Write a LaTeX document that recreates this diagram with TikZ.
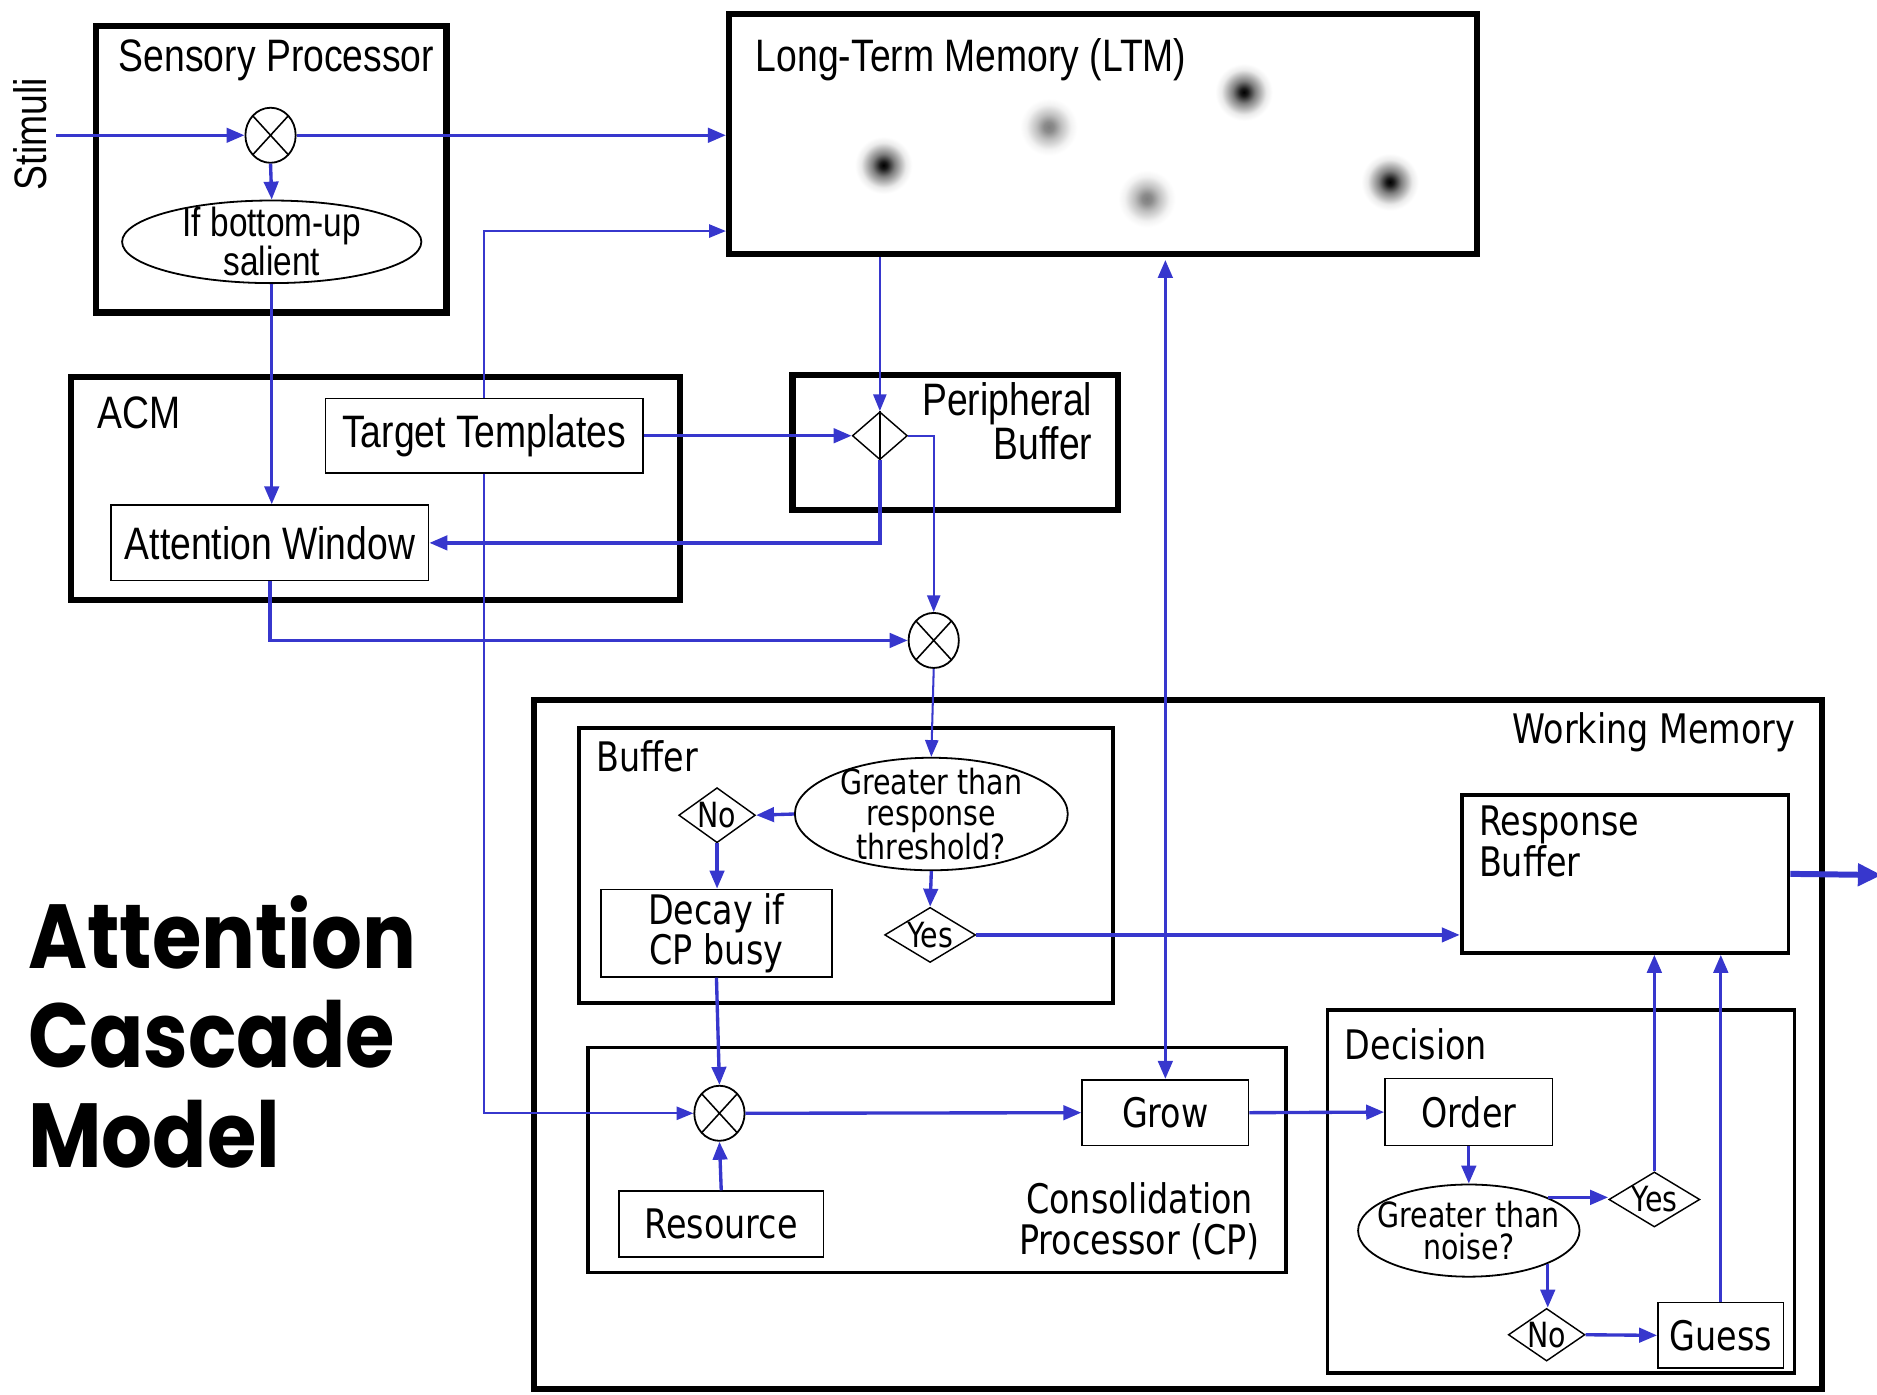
\documentclass[tikz,border=0pt]{standalone}
\usepackage{fontspec}
\usetikzlibrary{arrows.meta,shapes.geometric,calc}
\newfontfamily\narrowfont[FakeStretch=0.82]{Liberation Sans}
\newfontfamily\wmfont[FakeStretch=0.82]{DejaVu Sans}
\newfontfamily\titlefont[FakeStretch=0.88]{Poppins}
\definecolor{flow}{RGB}{55,55,205}
% soft memory traces inside the LTM store
\pgfdeclareradialshading{darkdot}{\pgfpoint{0bp}{0bp}}{color(0bp)=(black); color(3bp)=(black!90); color(9bp)=(black!50); color(18bp)=(black!8); color(23bp)=(white); color(25bp)=(white); color(50bp)=(white)}
\pgfdeclareradialshading{greydot}{\pgfpoint{0bp}{0bp}}{color(0bp)=(black!50); color(4bp)=(black!45); color(10bp)=(black!25); color(18bp)=(black!5); color(23bp)=(white); color(25bp)=(white); color(50bp)=(white)}
\tikzset{
  heavy/.style={draw, line width=5.2, inner sep=0},
  medium/.style={draw, line width=3.2, inner sep=0},
  plain/.style={draw, line width=1.4, inner sep=0},
  upper/.style={font=\narrowfont\fontsize{38}{31}\selectfont},
  lower/.style={font=\wmfont\fontsize{34}{34}\selectfont},
  query/.style={font=\wmfont\fontsize{29}{26}\selectfont},
  flowline/.style={draw=flow, line width=2.8, -{Triangle[length=15pt,width=12pt]}},
  thinflow/.style={draw=flow, line width=1.7, -{Triangle[length=14pt,width=11pt]}},
  mult/.style={ellipse, draw, line width=1.5, minimum width=42, minimum height=46, inner sep=0,
    path picture={\draw[line width=1.3]
      (path picture bounding box.north west) -- (path picture bounding box.south east)
      (path picture bounding box.south west) -- (path picture bounding box.north east);}},
  question/.style={ellipse, draw, line width=1.5, inner sep=0},
  choice/.style={diamond, draw, line width=1.2, inner sep=0},
}
\begin{document}
\begin{tikzpicture}[x=1pt, y=-1pt]
\useasboundingbox (0,0) rectangle (1568,1165);

% ---------- containers ----------
\node[heavy, minimum width=293, minimum height=239] (sp) at (226.5,141.5) {};
\node[heavy, minimum width=625, minimum height=200] (ltm) at (921.5,112) {};
\node[heavy, minimum width=509, minimum height=186] (acm) at (313.5,408) {};
\node[heavy, minimum width=272, minimum height=113] (pb) at (798,369.5) {};
\node[heavy, minimum width=1076, minimum height=575] (wm) at (984,872.5) {};
\node[medium, minimum width=446, minimum height=230] (buf) at (707,723) {};
\node[medium, minimum width=583, minimum height=188] (cp) at (782.5,969) {};
\node[medium, minimum width=390, minimum height=303] (dec) at (1304,995.5) {};
\node[medium, minimum width=273, minimum height=132] (rb) at (1357.5,730) {};

% ---------- container titles ----------
\node[upper] (sptitle) at (231,50) {Sensory Processor};
\node[upper, anchor=west] (ltmtitle) at (628,50) {Long-Term Memory (LTM)};
\node[upper, anchor=west] (acmtitle) at (78,345) {ACM};
\node[upper, anchor=east, align=right] (pbtitle) at (916,352) {Peripheral\\Buffer};
\node[upper, rotate=90] (stimuli) at (25,112) {Stimuli};
\node[lower, anchor=east] (wmtitle) at (1503,612) {Working Memory};
\node[lower, anchor=west] (buftitle) at (495,632) {Buffer};
\node[lower, anchor=west] (dectitle) at (1120,872) {Decision};
\node[lower, align=center] (cptitle) at (952,1020) {Consolidation\\Processor (CP)};
\node[lower, anchor=west, align=left, font=\wmfont\fontsize{34}{31}\selectfont] (rbtitle) at (1232,703) {Response\\Buffer};

% ---------- memory traces ----------
\shade[shading=darkdot] (738,138) circle (26);
\shade[shading=greydot] (876,106) circle (26);
\shade[shading=darkdot] (1039,77) circle (26);
\shade[shading=greydot] (958,166) circle (26);
\shade[shading=darkdot] (1161,152) circle (26);

% ---------- processing elements ----------
\node[mult] (m1) at (226,113) {};
\node[question, minimum width=250, minimum height=69,
      label={[font=\narrowfont\fontsize{34}{27}\selectfont, align=center]center:If bottom-up\\salient}] (salient) at (227,202) {};
\node[plain, upper, minimum width=265, minimum height=62] (tt) at (404.5,364) {Target Templates};
\node[plain, upper, minimum width=265, minimum height=63] (aw) at (225.5,453.5) {Attention Window};
\node[choice, minimum width=46, minimum height=40] (pd) at (735,364) {};
\node[mult] (m2) at (780,535) {};

\node[question, minimum width=228, minimum height=94,
      label={[query, align=center]center:Greater than\\response\\threshold?}] (thr) at (778,680) {};
\node[choice, minimum width=64, minimum height=46, label={[query]center:No}] (no1) at (599,681) {};
\node[choice, minimum width=76, minimum height=46, label={[query]center:Yes}] (yes1) at (777,781) {};
\node[plain, lower, align=center, minimum width=193, minimum height=73] (decay) at (598.5,779.5) {Decay if\\CP busy};

\node[mult] (m3) at (601,930) {};
\node[plain, lower, minimum width=171, minimum height=55] (res) at (602.5,1022.5) {Resource};
\node[plain, lower, minimum width=139, minimum height=55] (grow) at (973.5,929.5) {Grow};

\node[plain, lower, minimum width=140, minimum height=56] (order) at (1227,929) {Order};
\node[question, minimum width=185, minimum height=77,
      label={[query, align=center]center:Greater than\\noise?}] (noise) at (1227,1028) {};
\node[choice, minimum width=76, minimum height=46, label={[query]center:Yes}] (yes2) at (1382,1002) {};
\node[choice, minimum width=64, minimum height=44, label={[query]center:No}] (no2) at (1292,1115) {};
\node[plain, lower, minimum width=105, minimum height=55] (guess) at (1437.5,1115.5) {Guess};

% ---------- title ----------
\node[anchor=west, align=left, font=\titlefont\bfseries\fontsize{76}{83}\selectfont] (title) at (20,862) {Attention\\Cascade\\Model};

% ---------- connectors ----------
\coordinate (stimin) at (47,113);
\coordinate (tty) at (0,193);
\coordinate (outlet) at (1572,731);

\draw[flowline] (stimin) -- (m1.west);
\draw[flowline] (m1.east) -- (m1.east -| ltm.west);
\draw[flowline] (m1.south) -- (salient.north);
\draw[flowline] (salient.south) -- (salient.south |- aw.north);
\draw[thinflow] (tt.north) |- (ltm.west |- tty);
\draw[thinflow] (tt.south) |- (m3.west);
\draw[flowline] (tt.east) -- (pd.west);
\draw[thinflow] (pd.north |- ltm.south) -- (pd.north);
\draw[line width=1.2] (pd.north) -- (pd.south);
\draw[flowline] (pd.south) |- (aw.east);
\draw[thinflow] (pd.east) -| (m2.north);
\draw[flowline] (aw.south) |- (m2.west);
\draw[thinflow] (m2.south) -- (thr.north);
\draw[flowline] (thr.west) -- (no1.east);
\draw[flowline] (no1.south) -- (no1.south |- decay.north);
\draw[flowline] (thr.south) -- (yes1.north);
\draw[flowline] (yes1.east) -- (yes1.east -| rb.west);
\draw[flowline] (decay.south) -- (m3.north);
\draw[flowline] (res.north) -- (m3.south);
\draw[flowline] (m3.east) -- (grow.west);
\draw[flowline, {Triangle[length=15pt,width=12pt]}-{Triangle[length=15pt,width=12pt]}] ($(grow.north |- ltm.south)+(0,2.5)$) -- (grow.north);
\draw[flowline] (grow.east) -- (order.west);
\draw[flowline] (order.south) -- (noise.north);
\draw[flowline] (noise.north east) -- (noise.north east -| yes2.west);
\draw[flowline] (noise.south east) -- (noise.south east |- no2.north);
\draw[flowline] (no2.east) -- (guess.west);
\draw[flowline] (yes2.north) -- (yes2.north |- rb.south);
\draw[flowline] (guess.north) -- (guess.north |- rb.south);
\draw[draw=flow, line width=5, -{Triangle[length=20pt,width=18pt]}] (rb.east) -- (outlet);
\end{tikzpicture}
\end{document}
